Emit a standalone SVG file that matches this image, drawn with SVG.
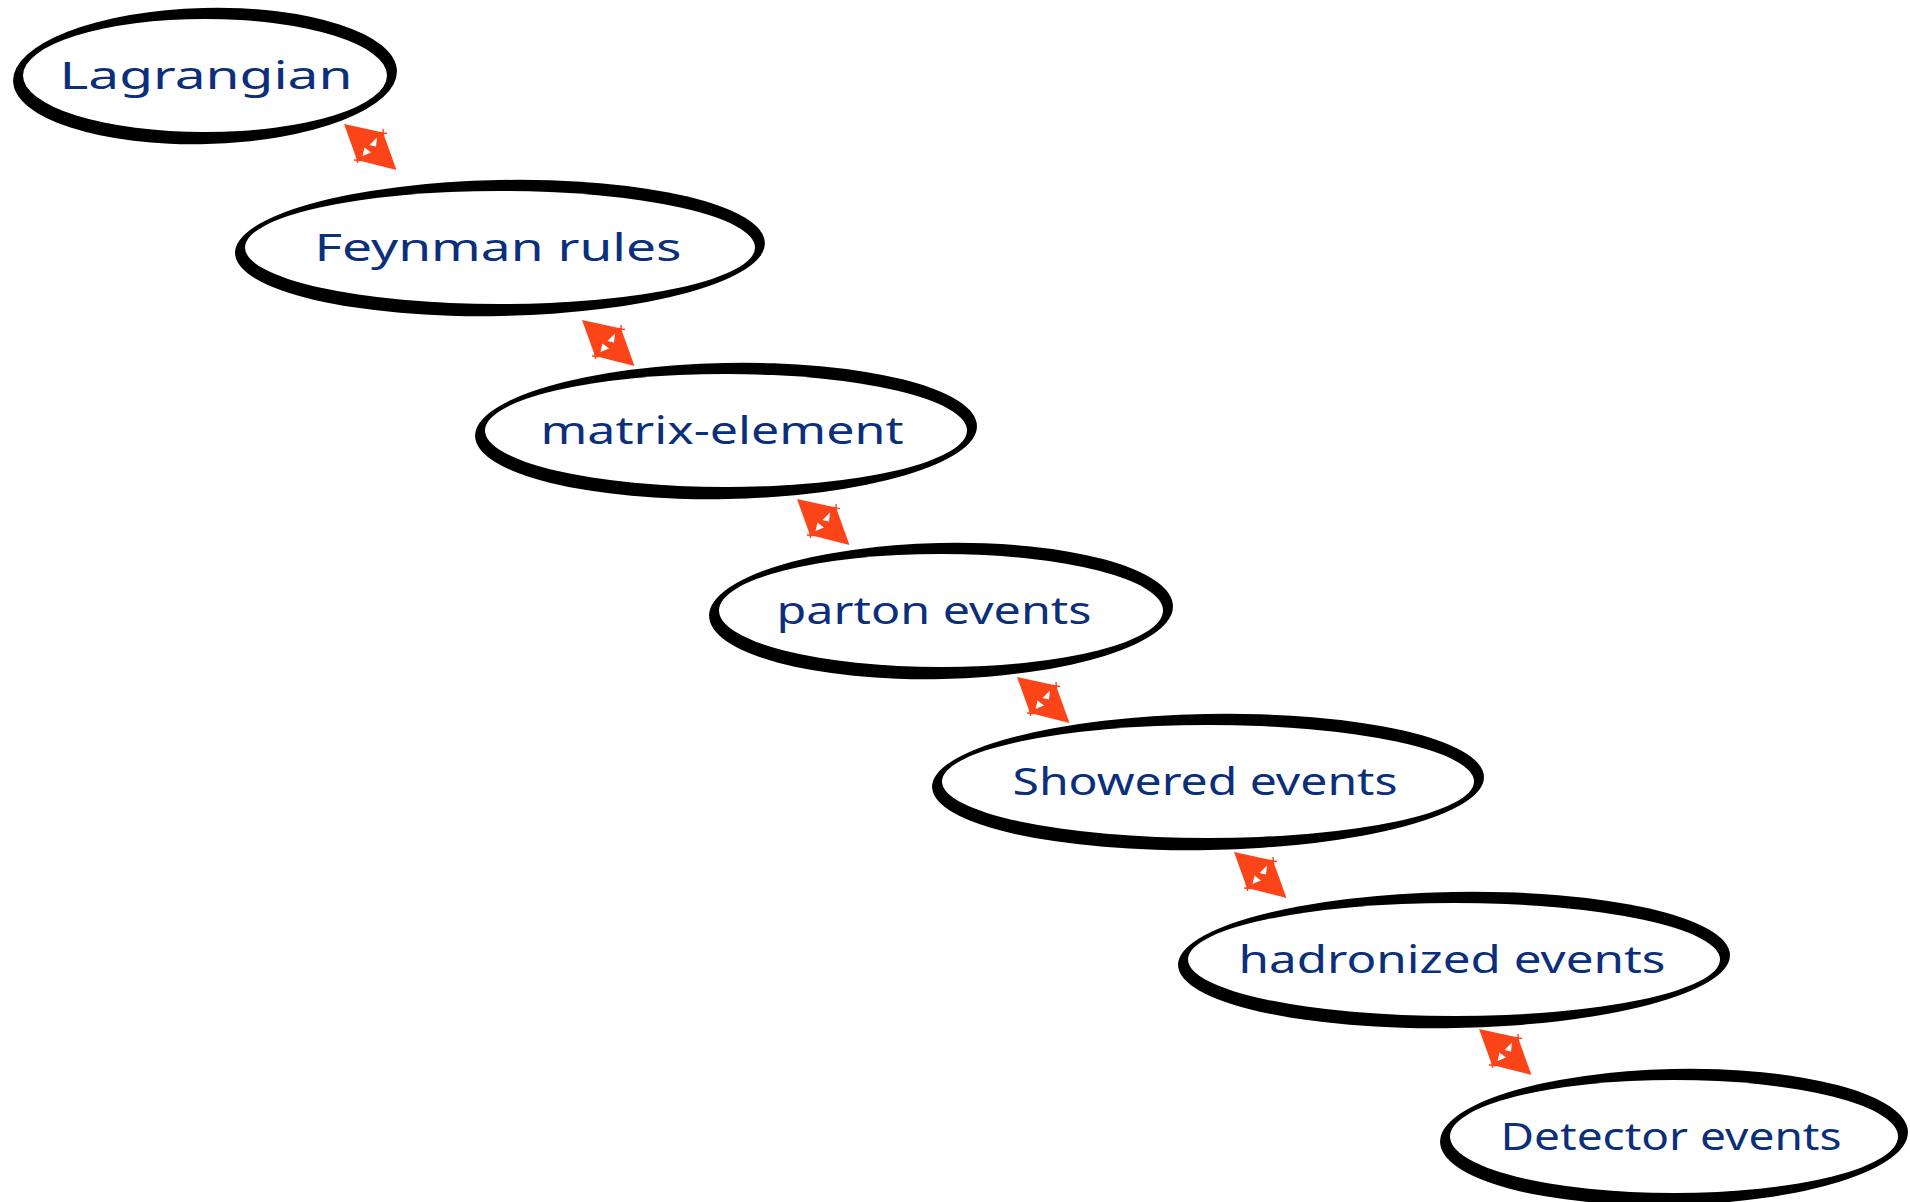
<svg xmlns="http://www.w3.org/2000/svg" xmlns:xlink="http://www.w3.org/1999/xlink" width="1910" height="1202" viewBox="0 0 1910 1202">
  <style>
    .brush { fill: #000000; }
    .hole { fill: #ffffff; }
    .label { font-family: "Noto Sans", "DejaVu Sans", sans-serif; font-size: 38px; fill: #0b2f7a; text-anchor: middle; }
    .link { fill: #fc4419; }
    .tick { stroke: #fc4419; stroke-width: 1.4; fill: none; }
    .notch { fill: #ffffff; }
  </style>
  <defs>
    <!-- short two-headed arrow, drawn from its top-left tip -->
    <g id="dbl-arrow">
      <polygon class="link" points="0,0 39,8.5 52.5,46 13,36"/>
      <path class="tick" d="M39,5 L39.5,12 M36,8.5 L43,9.5 M13,32 L13.5,39 M10,36 L17,36.5"/>
      <polygon class="notch" points="25.5,21 33,13.5 32,22.5"/>
      <polygon class="notch" points="18.5,32 20.5,23.5 27,28.5"/>
    </g>
  </defs>
  <rect width="1910" height="1202" fill="#ffffff"/>

  <g id="node-lagrangian">
    <ellipse class="brush" cx="205" cy="76" rx="192" ry="68" transform="rotate(-1.5 205 76)"/>
    <ellipse class="hole" cx="205" cy="75.5" rx="182" ry="56.5"/>
    <text class="label" x="206" y="89" textLength="293" lengthAdjust="spacingAndGlyphs">Lagrangian</text>
  </g>

  <g id="node-feynman">
    <ellipse class="brush" cx="500" cy="248" rx="265" ry="68" transform="rotate(-1.1 500 248)"/>
    <ellipse class="hole" cx="500" cy="247.5" rx="255" ry="56.5"/>
    <text class="label" x="498" y="261" textLength="367" lengthAdjust="spacingAndGlyphs">Feynman rules</text>
  </g>

  <g id="node-matrix">
    <ellipse class="brush" cx="726" cy="431" rx="251" ry="68" transform="rotate(-1.15 726 431)"/>
    <ellipse class="hole" cx="726" cy="430.5" rx="241" ry="56.5"/>
    <text class="label" x="722" y="444" textLength="363" lengthAdjust="spacingAndGlyphs">matrix-element</text>
  </g>

  <g id="node-parton">
    <ellipse class="brush" cx="941" cy="611" rx="232" ry="68" transform="rotate(-1.25 941 611)"/>
    <ellipse class="hole" cx="941" cy="610.5" rx="222" ry="56.5"/>
    <text class="label" x="934" y="624" textLength="315" lengthAdjust="spacingAndGlyphs">parton events</text>
  </g>

  <g id="node-showered">
    <ellipse class="brush" cx="1208" cy="782" rx="276" ry="68" transform="rotate(-1.05 1208 782)"/>
    <ellipse class="hole" cx="1208" cy="781.5" rx="266" ry="56.5"/>
    <text class="label" x="1205" y="795" textLength="385" lengthAdjust="spacingAndGlyphs">Showered events</text>
  </g>

  <g id="node-hadronized">
    <ellipse class="brush" cx="1454" cy="960" rx="276" ry="68" transform="rotate(-1.05 1454 960)"/>
    <ellipse class="hole" cx="1454" cy="959.5" rx="266" ry="56.5"/>
    <text class="label" x="1452" y="973" textLength="427" lengthAdjust="spacingAndGlyphs">hadronized events</text>
  </g>

  <g id="node-detector">
    <ellipse class="brush" cx="1674" cy="1137" rx="234" ry="68" transform="rotate(-1.25 1674 1137)"/>
    <ellipse class="hole" cx="1674" cy="1136.5" rx="224" ry="56.5"/>
    <text class="label" x="1671" y="1150" textLength="341" lengthAdjust="spacingAndGlyphs">Detector events</text>
  </g>

  <g id="connectors">
    <use xlink:href="#dbl-arrow" transform="translate(344 124)"/>
    <use xlink:href="#dbl-arrow" transform="translate(582 320)"/>
    <use xlink:href="#dbl-arrow" transform="translate(797 499)"/>
    <use xlink:href="#dbl-arrow" transform="translate(1017 677)"/>
    <use xlink:href="#dbl-arrow" transform="translate(1234 852)"/>
    <use xlink:href="#dbl-arrow" transform="translate(1479 1029)"/>
  </g>
</svg>
